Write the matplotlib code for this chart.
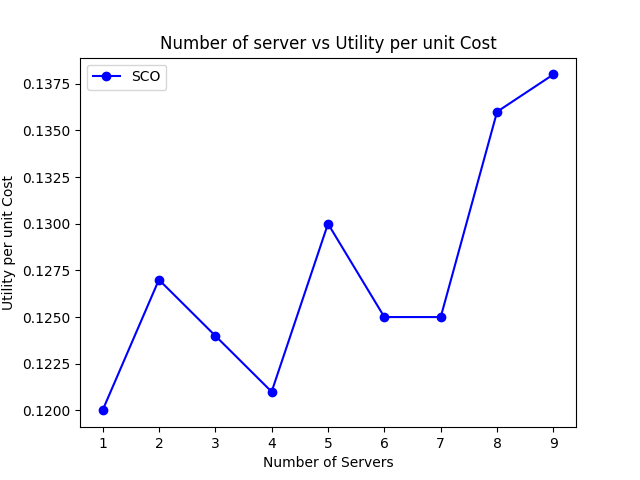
import matplotlib
matplotlib.use("Agg")
import matplotlib.pyplot as plt

# 数据
servers = [1, 2, 3, 4, 5, 6, 7, 8, 9]
sco = [0.1200, 0.1270, 0.1240, 0.1210, 0.1300, 0.1250, 0.1250, 0.1360, 0.1380]

# 作图
plt.figure(figsize=(6.4, 4.8), dpi=100)
plt.plot(servers, sco, "bo-", label="SCO")
plt.xlabel("Number of Servers")
plt.ylabel("Utility per unit Cost")
plt.title("Number of server vs Utility per unit Cost")
plt.xticks(servers)
plt.legend(loc="upper left")
plt.savefig("out.png")
